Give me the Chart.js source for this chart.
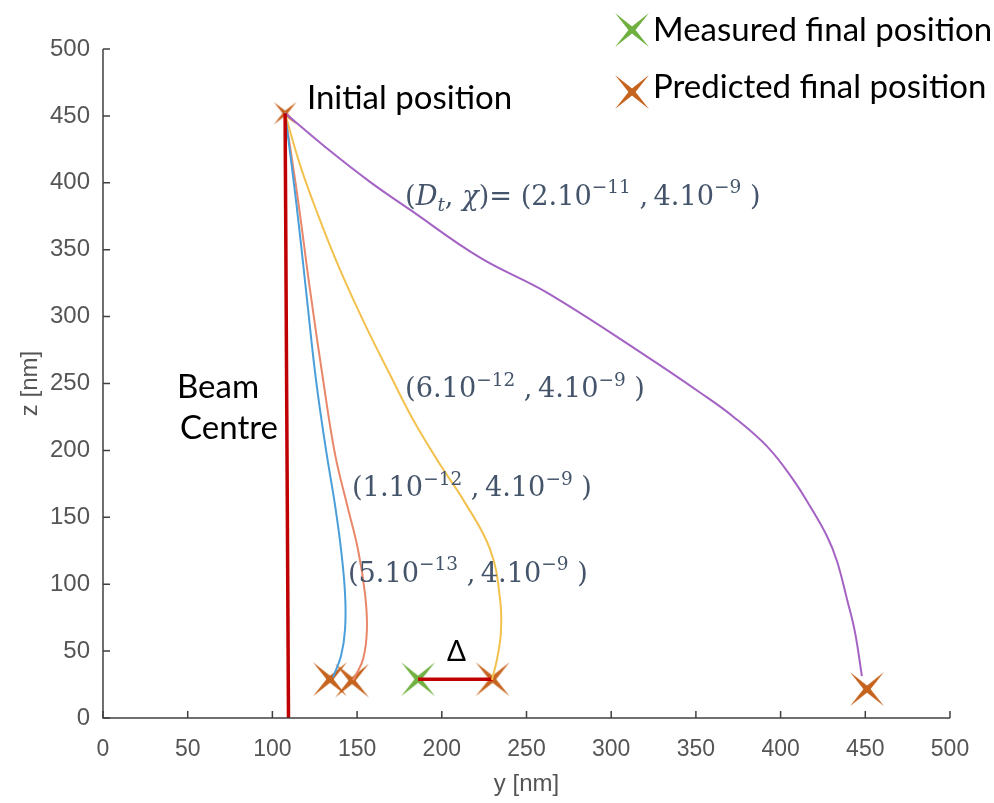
<!DOCTYPE html>
<html><head><meta charset="utf-8">
<script src="https://cdn.jsdelivr.net/npm/chart.js@4.4.0/dist/chart.umd.min.js"></script>
<style>html,body{margin:0;padding:0;background:#fff;}#wrap{width:994px;height:803px;}</style>
</head><body><div id="wrap"><canvas id="c" width="994" height="803"></canvas></div>
<script>
// ---- data (nm) ----
const axisTicks = [0, 50, 100, 150, 200, 250, 300, 350, 400, 450, 500];
const beamY = [107.5, 109.5];
const beamZ = [452, 0];
const blueY = [107.4, 113.9, 119.8, 125.7, 131.6, 136.9, 140.5, 142.9, 142.9, 140.5, 135.8];
const blueZ = [452.2, 387.3, 320.1, 253.0, 200.7, 159.7, 126.1, 92.5, 66.4, 46.3, 30.6];
const orangeY = [107.4, 115.1, 122.2, 129.9, 137.0, 144.0, 150.5, 154.7, 155.8, 153.5, 147.6];
const orangeZ = [452.2, 387.3, 320.1, 253.0, 197.0, 159.7, 126.1, 92.5, 66.4, 44.0, 28.4];
const yellowY = [107.4, 116.3, 126.9, 139.9, 154.7, 169.4, 183.0, 198.9, 212.5, 228.5, 234.4, 234.9, 232.6, 229.6];
const yellowZ = [452.2, 413.4, 376.1, 335.1, 294.0, 256.7, 223.1, 189.6, 163.4, 126.1, 88.8, 64.2, 44.0, 28.4];
const purpleY = [107.4, 134.0, 157.6, 181.2, 222.6, 262.1, 321.1, 352.4, 371.9, 392.0, 407.3, 417.4, 427.4, 433.3, 439.2, 443.9, 448.0];
const purpleZ = [452.2, 423.9, 400.7, 379.9, 344.0, 317.9, 270.1, 243.3, 225.4, 203.0, 178.4, 158.2, 135.8, 117.2, 88.8, 64.2, 31.3];
const deltaY = [186, 230];
const deltaZ = [29, 29];
const predictedY = [134, 147, 230, 451];
const predictedZ = [29, 28, 29, 21.6];
const measuredY = [186];
const measuredZ = [29];
const initialY = [107.5];
const initialZ = [452];

const pts = (xs, zs) => xs.map((x, i) => ({x: x, y: zs[i]}));

function makeX(color, L, w) {
  const c = document.createElement('canvas');
  const s = Math.ceil(2 * L / Math.SQRT2 + 4);
  c.width = s; c.height = s;
  const g = c.getContext('2d');
  g.translate(s / 2, s / 2);
  g.fillStyle = color;
  for (let k = 0; k < 4; k++) {
    g.save(); g.rotate(Math.PI / 4 + k * Math.PI / 2);
    g.beginPath(); g.moveTo(0, -w); g.lineTo(L, 0); g.lineTo(0, w); g.closePath(); g.fill();
    g.restore();
  }
  return c;
}
const ORANGE = '#c6641f', GREEN = '#70b040';
const xPred = makeX(ORANGE, 24, 2.8);
const xMeas = makeX(GREEN, 24, 2.8);
const xInit = makeX(ORANGE, 16, 2.0);

const SERIF = '"DejaVu Serif"';
const SANS = 'Lato';
const MATHCOL = '#44546a';

function drawMath(ctx, x, y, parts, size) {
  let cx = x;
  ctx.fillStyle = MATHCOL;
  ctx.textAlign = 'left';
  ctx.textBaseline = 'alphabetic';
  parts.forEach(p => {
    const small = p.sup || p.sub;
    const fs = small ? size * 0.68 : size;
    ctx.font = (p.it ? 'italic ' : '') + fs + 'px ' + SERIF;
    const dy = p.sup ? -size * 0.42 : (p.sub ? size * 0.22 : 0);
    ctx.fillText(p.t, cx, y + dy);
    cx += ctx.measureText(p.t).width;
  });
}

const annotations = {
  id: 'annotations',
  afterDatasetsDraw(chart) {
    const {ctx, chartArea: a, scales: {x, y}} = chart;
    ctx.save();
    // axes lines
    ctx.strokeStyle = '#404040';
    ctx.lineWidth = 1.5;
    ctx.beginPath();
    ctx.moveTo(a.left, a.top); ctx.lineTo(a.left, a.bottom); ctx.lineTo(a.right, a.bottom);
    ctx.stroke();
    ctx.beginPath();
    x.ticks.forEach(t => { const px = x.getPixelForValue(t.value); ctx.moveTo(px, a.bottom); ctx.lineTo(px, a.bottom - 7); });
    y.ticks.forEach(t => { const py = y.getPixelForValue(t.value); ctx.moveTo(a.left, py); ctx.lineTo(a.left + 7, py); });
    ctx.stroke();

    // math labels
    const S = 27.2;
    const sep = ' ,\u2009';
    drawMath(ctx, x.getPixelForValue(178.3), y.getPixelForValue(383.6), [
      {t: '('}, {t: 'D', it: 1}, {t: 't', it: 1, sub: 1}, {t: ', '}, {t: 'χ', it: 1}, {t: ')= (2.10'},
      {t: '−11', sup: 1}, {t: sep + '4.10'}, {t: '−9', sup: 1}, {t: ' )'}], S);
    drawMath(ctx, x.getPixelForValue(178.3), y.getPixelForValue(239.6), [
      {t: '(6.10'}, {t: '−12', sup: 1}, {t: sep + '4.10'}, {t: '−9', sup: 1}, {t: ' )'}], S);
    drawMath(ctx, x.getPixelForValue(147), y.getPixelForValue(165.7), [
      {t: '(1.10'}, {t: '−12', sup: 1}, {t: sep + '4.10'}, {t: '−9', sup: 1}, {t: ' )'}], S);
    drawMath(ctx, x.getPixelForValue(144.6), y.getPixelForValue(102), [
      {t: '(5.10'}, {t: '−13', sup: 1}, {t: sep + '4.10'}, {t: '−9', sup: 1}, {t: ' )'}], S);

    // plain labels
    ctx.fillStyle = '#000';
    ctx.font = '33px ' + SANS;
    ctx.textAlign = 'left';
    ctx.textBaseline = 'alphabetic';
    ctx.fillText('Initial position', x.getPixelForValue(120.4), y.getPixelForValue(455.2));
    ctx.fillText('Beam', x.getPixelForValue(43.7), y.getPixelForValue(238.8));
    ctx.fillText('Centre', x.getPixelForValue(45.5), y.getPixelForValue(208.2));
    ctx.font = '28px ' + SANS;
    ctx.fillText('Δ', x.getPixelForValue(203), y.getPixelForValue(42.5));

    // legend
    ctx.drawImage(xMeas, 632 - xMeas.width / 2, 30 - xMeas.height / 2);
    ctx.drawImage(xPred, 632 - xPred.width / 2, 92 - xPred.height / 2);
    ctx.font = '33px ' + SANS;
    ctx.fillText('Measured final position', 653, 41);
    ctx.fillText('Predicted final position', 653, 98);
    ctx.restore();
  }
};

const lineDs = (label, data, color, w) => ({
  label, data, showLine: true, borderColor: color, borderWidth: w, pointRadius: 0,
  tension: 0.4, fill: false
});
const markDs = (label, data, img) => ({
  label, data, showLine: false, pointStyle: img, pointRadius: 17, pointHoverRadius: 17
});

new Chart(document.getElementById('c'), {
  type: 'scatter',
  data: {
    datasets: [
      lineDs('Beam centre', pts(beamY, beamZ), '#c00000', 3.5),
      lineDs('(5e-13,4e-9)', pts(blueY, blueZ), '#4a9fda', 2),
      lineDs('(1e-12,4e-9)', pts(orangeY, orangeZ), '#e8876a', 2),
      lineDs('(6e-12,4e-9)', pts(yellowY, yellowZ), '#f2c14e', 2),
      lineDs('(2e-11,4e-9)', pts(purpleY, purpleZ), '#a463c4', 2),
      lineDs('Delta', pts(deltaY, deltaZ), '#c00000', 3.5),
      markDs('Predicted final position', pts(predictedY, predictedZ), xPred),
      markDs('Measured final position', pts(measuredY, measuredZ), xMeas),
      markDs('Initial position', pts(initialY, initialZ), xInit)
    ]
  },
  options: {
    responsive: false,
    animation: false,
    devicePixelRatio: 1,
    clip: false,
    layout: {padding: {top: 49, right: 44, left: 0, bottom: 0}},
    plugins: {legend: {display: false}, tooltip: {enabled: false}},
    scales: {
      x: {
        type: 'linear', min: 0, max: 500,
        afterBuildTicks: s => { s.ticks = axisTicks.map(v => ({value: v})); },
        afterFit: s => { s.height = 85; },
        grid: {display: false, drawTicks: false},
        border: {display: false},
        ticks: {color: '#555', font: {family: 'Liberation Sans', size: 23}, padding: 18, maxRotation: 0},
        title: {display: true, text: 'y [nm]', color: '#555', font: {family: 'Liberation Sans', size: 24}, padding: {top: 0, bottom: 4}}
      },
      y: {
        type: 'linear', min: 0, max: 500,
        afterBuildTicks: s => { s.ticks = axisTicks.map(v => ({value: v})); },
        afterFit: s => { s.width = 103; },
        grid: {display: false, drawTicks: false},
        border: {display: false},
        ticks: {color: '#555', font: {family: 'Liberation Sans', size: 24}, padding: 13},
        title: {display: true, text: 'z [nm]', color: '#555', font: {family: 'Liberation Sans', size: 24}, padding: {top: 16, bottom: 0}}
      }
    }
  },
  plugins: [annotations]
});
</script></body></html>
